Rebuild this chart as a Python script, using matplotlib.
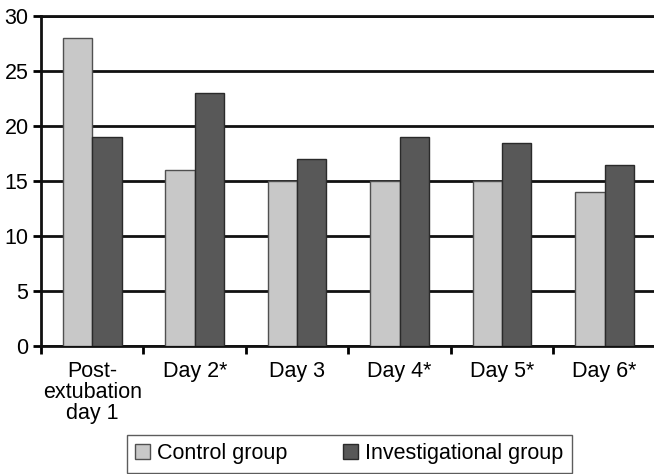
import numpy as np
import matplotlib
matplotlib.use('Agg')
import matplotlib.pyplot as plt

plt.rcParams['font.family'] = ['Liberation Sans', 'DejaVu Sans']
plt.rcParams['font.size'] = 15.5

categories = ['Post-\nextubation\nday 1', 'Day 2*', 'Day 3', 'Day 4*', 'Day 5*', 'Day 6*']
control = [28, 16, 15, 15, 15, 14]
investigational = [19, 23, 17, 19, 18.5, 16.5]
yticks = [0, 5, 10, 15, 20, 25, 30]

x = np.arange(len(categories))
w = 0.286

fig = plt.figure(figsize=(6.54, 4.74), dpi=100)
ax = fig.add_axes([0.0627, 0.270, 0.940, 0.696])

ax.bar(x - w / 2, control, w, color='#c8c8c8', edgecolor='#505050', linewidth=1, label='Control group', zorder=3)
ax.bar(x + w / 2, investigational, w, color='#585858', edgecolor='#2a2a2a', linewidth=1, label='Investigational group', zorder=3)

ax.set_xlim(-0.5, len(categories) - 0.5)
ax.set_ylim(0, 30)
ax.set_yticks(yticks)
ax.yaxis.grid(True, color='#111111', linewidth=2)
ax.set_axisbelow(True)

# category boundaries get the tick marks, centres get the labels
ax.set_xticks(np.arange(len(categories) + 1) - 0.5)
ax.set_xticklabels([])
ax.set_xticks(x, minor=True)
ax.set_xticklabels(categories, minor=True)
for lbl in ax.get_xticklabels(minor=True):
    lbl.set_linespacing(1.0)
ax.tick_params(axis='x', which='major', length=6, width=2, direction='out')
ax.tick_params(axis='x', which='minor', length=0, pad=11)
ax.tick_params(axis='y', length=6, width=2, pad=3)

for s in ['left', 'bottom', 'top']:
    ax.spines[s].set_linewidth(2)
    ax.spines[s].set_color('#111111')
ax.spines['right'].set_visible(False)

leg = fig.legend(loc='lower center', bbox_to_anchor=(0.534, 0.0), ncol=2, frameon=True,
                 fancybox=False, handlelength=0.7, handleheight=0.7, handletextpad=0.3,
                 columnspacing=2.6, borderpad=0.4, borderaxespad=0.05)
leg.get_frame().set_edgecolor('#333333')
leg.get_frame().set_linewidth(1)

fig.savefig('out.png', dpi=100)
